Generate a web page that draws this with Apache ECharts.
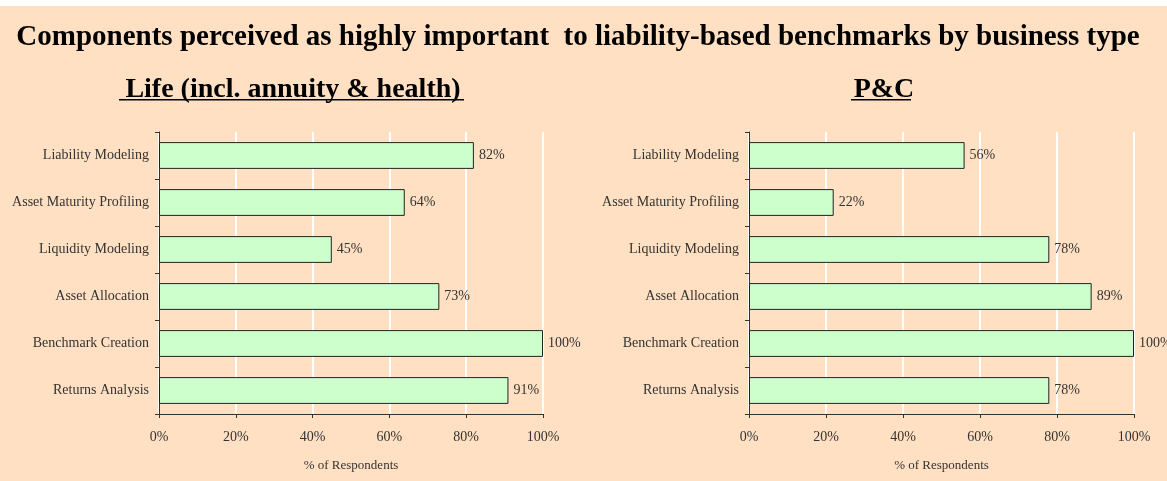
<!DOCTYPE html>
<html>
<head>
<meta charset="utf-8">
<script src="https://cdn.jsdelivr.net/npm/echarts@6/dist/echarts.min.js"></script>
<style>
  html, body { margin: 0; padding: 0; background: #ffffff; }
  #chart { width: 1167px; height: 481px; }
</style>
</head>
<body>
<div id="chart"></div>
<script>
// categories, top to bottom
var categories = ["Liability Modeling", "Asset Maturity Profiling", "Liquidity Modeling", "Asset Allocation", "Benchmark Creation", "Returns Analysis"];
// % of respondents
var lifeValues = [82, 64, 45, 73, 100, 91];
var pcValues = [56, 22, 78, 89, 100, 78];
var xTicks = [0, 20, 40, 60, 80, 100];

var serif = "'Liberation Serif', 'DejaVu Serif', serif";
var txt = "#333";

var chart = echarts.init(document.getElementById("chart"));

function xAxisFor(idx) {
  return {
    type: "value",
    gridIndex: idx,
    min: xTicks[0],
    max: xTicks[xTicks.length - 1],
    interval: 20,
    name: "% of Respondents",
    nameLocation: "middle",
    nameGap: 45,
    nameTextStyle: { fontFamily: serif, fontSize: 13, color: txt },
    axisLine: { show: true, lineStyle: { color: "#333", width: 1 } },
    axisTick: { show: true, length: 4, lineStyle: { color: "#333" } },
    axisLabel: {
      margin: 16,
      fontFamily: serif,
      fontSize: 14,
      color: txt,
      formatter: "{value}%"
    },
    splitLine: { show: true, lineStyle: { color: "#ffffff", width: 2 } }
  };
}

function yAxisFor(idx) {
  return {
    type: "category",
    gridIndex: idx,
    inverse: true,
    data: categories,
    axisLine: { show: true, lineStyle: { color: "#333", width: 1 } },
    axisTick: { show: true, length: 4, lineStyle: { color: "#333" } },
    axisLabel: { margin: 10, fontFamily: serif, fontSize: 14, color: txt },
    splitLine: { show: false }
  };
}

function seriesFor(idx, values, name) {
  return {
    name: name,
    type: "bar",
    xAxisIndex: idx,
    yAxisIndex: idx,
    data: values,
    barCategoryGap: "43%",
    itemStyle: { color: "#ccffcc", borderColor: "#222", borderWidth: 1 },
    label: {
      show: true,
      position: "right",
      distance: 5,
      fontFamily: serif,
      fontSize: 14,
      color: txt,
      formatter: "{c}%"
    }
  };
}

chart.setOption({
  backgroundColor: "#ffe0c2",
  animation: false,
  title: [
    {
      text: "Components perceived as highly important  to liability-based benchmarks by business type",
      left: 573,
      textAlign: "center",
      top: 18,
      textStyle: { fontFamily: serif, fontSize: 29, fontWeight: "bold", color: "#000" }
    },
    {
      text: "Life (incl. annuity & health)",
      left: 288,
      textAlign: "center",
      top: 71,
      textStyle: { fontFamily: serif, fontSize: 28, fontWeight: "bold", color: "#000" }
    },
    {
      text: "P&C",
      left: 879,
      textAlign: "center",
      top: 71,
      textStyle: { fontFamily: serif, fontSize: 28, fontWeight: "bold", color: "#000" }
    }
  ],
  // white strip at the top and subtitle underlines
  graphic: [
    { type: "rect", left: 0, top: 0, shape: { width: 1167, height: 6 }, style: { fill: "#ffffff" } },
    { type: "rect", left: 119, top: 99, shape: { width: 345, height: 1.5 }, style: { fill: "#000" } },
    { type: "rect", left: 851, top: 99, shape: { width: 60, height: 1.5 }, style: { fill: "#000" } }
  ],
  grid: [
    { left: 159, top: 132, width: 384, height: 282 },
    { left: 749, top: 132, width: 385, height: 282 }
  ],
  xAxis: [xAxisFor(0), xAxisFor(1)],
  yAxis: [yAxisFor(0), yAxisFor(1)],
  series: [
    seriesFor(0, lifeValues, "Life"),
    seriesFor(1, pcValues, "P&C")
  ]
});
</script>
</body>
</html>
